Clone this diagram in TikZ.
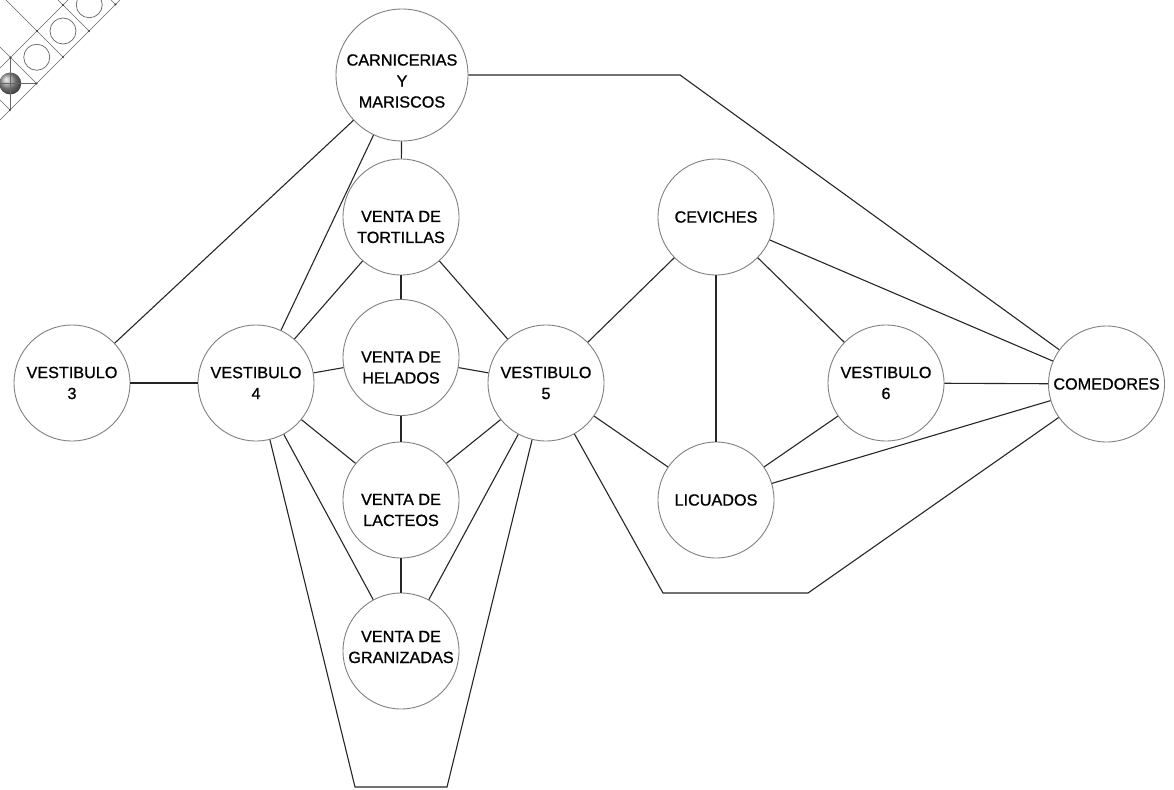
\documentclass[tikz,border=0pt]{standalone}
\usepackage{fontspec}
\setmainfont{Liberation Sans}
\newfontfamily\roomfont{Liberation Sans}[BoldFont=Liberation Sans, BoldFeatures={FakeBold=0.9}]
\begin{document}
\begin{tikzpicture}[x=1pt,y=-1pt,
  room/.style={circle, draw=black!50, line width=0.9pt, minimum size=116pt, inner sep=0pt, fill=white},
  bigroom/.style={room, minimum size=132pt},
  lbl/.style={align=center, font=\roomfont\bfseries\fontsize{16.2}{21}\selectfont, text=black, inner sep=0pt},
  link/.style={draw=black!85, line width=1.1pt},
  tile/.style={draw=black!60, line width=0.7pt},
  knot/.style={fill=black!75}]
\useasboundingbox (0,0) rectangle (1174,789);

% corner ornament: strip of tiles with rings and a sphere
\begin{scope}
  \clip (0,0) rectangle (1174,789);
  \draw[tile] (0,120) -- (120,0);
  \draw[tile] (0,68) -- (68,0);
  \draw[tile] (10,110) -- (0,100);
  \draw[tile] (36.5,83.5) -- (0,47);
  \draw[tile] (63,57) -- (6,0);
  \draw[tile] (89,31) -- (58,0);
  \draw[tile] (115.5,4.5) -- (111,0);
  \draw[tile] (36.75,57.25) circle (13);
  \draw[tile] (63,31) circle (13);
  \draw[tile] (89.25,4.75) circle (13);
  \shade[ball color=black!40] (10.25,83.5) circle (11);
  \draw[tile] (10.5,57.5) -- (10.5,110);
  \draw[tile] (0,83.7) -- (36.5,83.7);
  \foreach \p in {(10.5,57.5),(37,31),(63,5),(10,110),(36.5,83.5),(63,57),(89,31),(115.5,4.5)}
    \fill[knot] \p circle (1.1);
\end{scope}

% rooms
\node[bigroom, label={[lbl,yshift=-6pt]center:{CARNICERIAS\\Y\\MARISCOS}}] (carn) at (402,75) {};
\node[room, label={[lbl,yshift=-10pt]center:{VENTA DE\\TORTILLAS}}] (tort) at (401,217) {};
\node[room, label={[lbl,yshift=-10pt]center:{VENTA DE\\HELADOS}}] (hel) at (401,357.5) {};
\node[room, label={[lbl,yshift=-10pt]center:{VENTA DE\\LACTEOS}}] (lact) at (401,500) {};
\node[room, label={[lbl,yshift=4pt]center:{VENTA DE\\GRANIZADAS}}] (gran) at (401,651) {};
\node[room, label={[lbl]center:{VESTIBULO\\3}}] (v3) at (72,383) {};
\node[room, label={[lbl]center:{VESTIBULO\\4}}] (v4) at (256,383) {};
\node[room, label={[lbl]center:{VESTIBULO\\5}}] (v5) at (546,383) {};
\node[room, label={[lbl]center:{VESTIBULO\\6}}] (v6) at (886,383) {};
\node[room, label={[lbl]center:CEVICHES}] (cev) at (716,217) {};
\node[room, label={[lbl]center:LICUADOS}] (licu) at (716,500) {};
\node[room, label={[lbl]center:COMEDORES}] (com) at (1106.5,384) {};

% bend points of the routed links
\coordinate (ctop) at (680,75);
\coordinate (tl) at (355,787);
\coordinate (tr) at (447,787);
\coordinate (bl) at (663,593);
\coordinate (br) at (808,593);

% links
\draw[link] (carn) -- (v3);
\draw[link] (carn) -- (v4);
\draw[link] (carn) -- (tort);
\draw[link] (carn.east) -- (ctop) -- (com);
\draw[link] (v3) -- (v4);
\draw[link] (tort) -- (v4);
\draw[link] (tort) -- (hel);
\draw[link] (tort) -- (v5);
\draw[link] (hel) -- (v4);
\draw[link] (hel) -- (v5);
\draw[link] (hel) -- (lact);
\draw[link] (lact) -- (v4);
\draw[link] (lact) -- (v5);
\draw[link] (lact) -- (gran);
\draw[link] (gran) -- (v4);
\draw[link] (gran) -- (v5);
\draw[link] (v4) -- (tl) -- (tr) -- (v5);
\draw[link] (v5) -- (cev);
\draw[link] (v5) -- (licu);
\draw[link] (v5) -- (bl) -- (br) -- (com);
\draw[link] (cev) -- (licu);
\draw[link] (cev) -- (v6);
\draw[link] (cev) -- (com);
\draw[link] (v6) -- (com);
\draw[link] (v6) -- (licu);
\draw[link] (licu) -- (com);
\end{tikzpicture}
\end{document}
